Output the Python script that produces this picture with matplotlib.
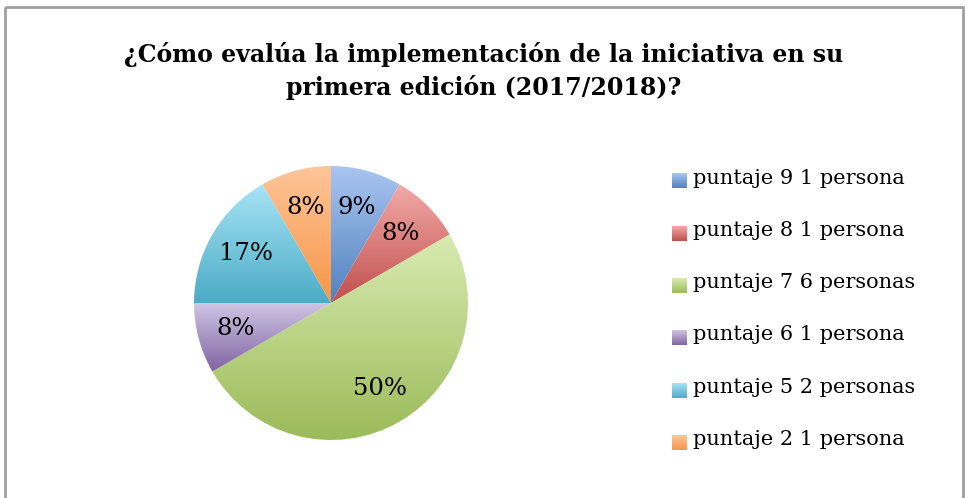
import matplotlib.pyplot as plt
import numpy as np
from matplotlib.colors import LinearSegmentedColormap
from matplotlib.patches import Rectangle

plt.rcParams['font.family'] = ['DejaVu Serif']

labels = ["puntaje 9 1 persona", "puntaje 8 1 persona", "puntaje 7 6 personas",
          "puntaje 6 1 persona", "puntaje 5 2 personas", "puntaje 2 1 persona"]
counts = [1, 1, 6, 1, 2, 1]
pct_labels = ["9%", "8%", "50%", "8%", "17%", "8%"]
title = "¿Cómo evalúa la implementación de la iniciativa en su\nprimera edición (2017/2018)?"

# top (light) and bottom (dark) gradient colours, office style
tops = ["#abc6f2", "#f2aaa8", "#d9ebb2", "#cfc5e4", "#a8e4f6", "#ffc59a"]
bots = ["#4f81bd", "#c0504d", "#9bbb59", "#8064a2", "#4bacc6", "#f79646"]

W, H = 967, 498
fig = plt.figure(figsize=(W / 100, H / 100), dpi=100)

# full-figure overlay in pixel coordinates for frame and legend
bg = fig.add_axes([0, 0, 1, 1])
bg.set_xlim(0, W)
bg.set_ylim(H, 0)
bg.axis('off')
bg.add_patch(Rectangle((4.5, 6.5), 958, 500, fill=False, ec="#a0a0a0", lw=2))

fig.text(0.5, 1 - 71 / H, title, ha='center', va='center', fontsize=17,
         fontweight='bold', linespacing=1.42)

cx, cy, r = 331, 303, 137
ax = fig.add_axes([(cx - r) / W, (H - cy - r) / H, 2 * r / W, 2 * r / H])
wedges, _ = ax.pie(counts, startangle=90, counterclock=False, radius=1,
                   wedgeprops=dict(linewidth=0))
ax.set_xlim(-1, 1)
ax.set_ylim(-1, 1)
ax.set_aspect('equal')

grad = np.linspace(0, 1, 256).reshape(-1, 1)
for w, t, b, txt in zip(wedges, tops, bots, pct_labels):
    cmap = LinearSegmentedColormap.from_list("g", [t, b])
    w.set_facecolor('none')
    bb = w.get_path().get_extents(w.get_transform() + ax.transData.inverted())
    im = ax.imshow(grad, cmap=cmap, aspect='auto', origin='upper',
                   extent=[bb.x0, bb.x1, bb.y0, bb.y1], zorder=1)
    im.set_clip_path(w)
    ang = np.deg2rad((w.theta1 + w.theta2) / 2)
    d = 0.72
    ax.text(d * np.cos(ang), d * np.sin(ang), txt, ha='center', va='center',
            fontsize=17.5, zorder=3)
ax.set_xlim(-1, 1)
ax.set_ylim(-1, 1)
ax.axis('off')

# legend
ly0, dy = 181, 52.3
for i, (lab, t, b) in enumerate(zip(labels, tops, bots)):
    y = ly0 + i * dy
    cmap = LinearSegmentedColormap.from_list("g", [t, b])
    bg.imshow(grad, cmap=cmap, aspect='auto', origin='upper',
              extent=[672, 687, y + 7.5, y - 7.5])
    bg.text(693, y - 3, lab, ha='left', va='center', fontsize=15)
bg.set_xlim(0, W)
bg.set_ylim(H, 0)

fig.savefig("out.png", dpi=100)
